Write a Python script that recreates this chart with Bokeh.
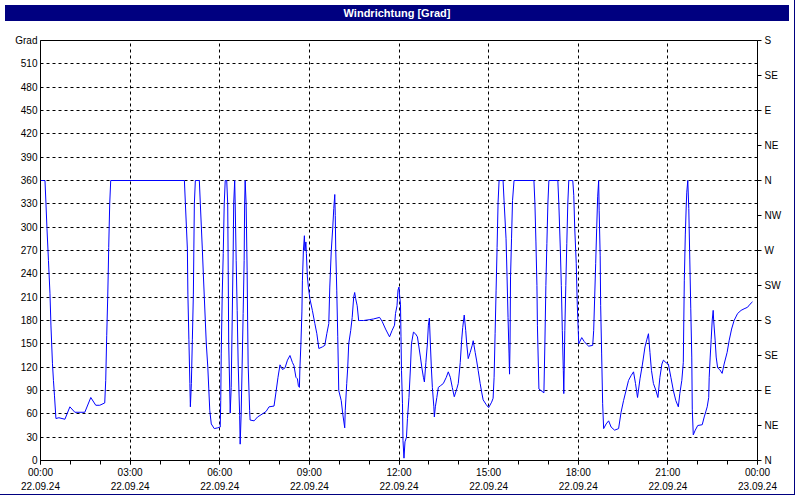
from bokeh.plotting import figure
from bokeh.models import Range1d, FixedTicker, LinearAxis, Div, AllLabels
from bokeh.layouts import column
from bokeh.embed import file_html
from bokeh.resources import INLINE

# time of day in minutes since 22.09.24 00:00, wind direction in degrees
minutes = [0, 9, 11, 13, 16, 19, 21, 24, 26, 28, 31, 37, 49, 59, 69, 89, 101, 111, 119, 129,
           131, 133, 135, 136, 137, 139, 141,
           289, 291, 295, 296, 298, 300, 301, 303, 305, 307, 308, 309, 311, 319, 321, 325, 327,
           331, 333, 336, 338, 340, 343, 349, 356, 361, 362, 363, 365, 367, 369, 371, 374, 376,
           377, 378, 380, 381, 383, 385, 387, 388, 390, 391, 393, 395, 397, 400, 401, 403, 405,
           407, 409, 410, 411, 413, 415, 416, 417, 420, 421, 429, 436,
           446, 453, 459, 469, 473, 477, 481, 486, 491, 496, 501, 506, 509, 513, 516, 518, 520,
           521, 523, 525, 526, 528, 530, 531, 533, 534, 536, 538, 541, 546, 551, 555, 559, 566,
           571, 575, 579, 581, 584, 587, 589, 591, 592, 593, 595, 597, 599, 604, 607, 611, 612,
           615, 617, 619, 623, 626, 629, 631, 633, 636, 639, 649, 660, 669, 681, 686, 693, 701,
           706, 711, 713, 716, 718, 720, 721, 723, 724, 725, 727, 728, 730, 732, 735, 737, 740,
           743, 745, 749, 753, 757, 763, 766, 769, 771, 774, 777, 779, 781, 783, 785, 787, 790,
           791, 793, 796, 799, 803, 809, 815, 819, 823, 827, 831, 836, 839, 843, 846, 848, 851,
           854, 856, 859, 863, 867, 869, 873, 876, 879, 883, 886, 889, 895, 900, 906, 909, 911,
           913, 915, 917, 919, 921,
           929, 931, 935, 937, 939, 941, 942, 943, 944, 946, 948, 951, 991, 993, 995, 997, 998,
           1000, 1001, 1007, 1011, 1013, 1015, 1017, 1019, 1021, 1039, 1041, 1044, 1046, 1048,
           1050, 1051, 1053, 1055, 1057, 1059, 1061, 1069, 1071, 1073, 1076, 1078, 1080, 1081,
           1087, 1092, 1096, 1101, 1109, 1111, 1113, 1115, 1117, 1119, 1121, 1122, 1124, 1125,
           1127, 1129, 1131, 1136, 1141, 1146, 1153, 1161, 1166, 1171, 1176, 1181, 1186, 1191,
           1195, 1199, 1204, 1209, 1214, 1218, 1221, 1224, 1227, 1231, 1236, 1240, 1244, 1248,
           1251, 1256, 1261, 1266, 1271, 1276, 1281, 1284, 1288, 1291, 1292, 1293, 1295, 1297,
           1298, 1300, 1302, 1304, 1306, 1308, 1309, 1311, 1315, 1320, 1329, 1333, 1339, 1342,
           1343, 1345, 1347, 1349, 1351, 1352, 1355, 1357, 1360, 1364, 1369, 1373, 1379, 1383,
           1388, 1393, 1400, 1407, 1413, 1420, 1425, 1430]
grad = [360, 360, 330, 298, 257, 215, 173, 125, 103, 84, 54, 55, 53, 69, 62, 62, 81, 71, 71, 74,
        103, 161, 210, 240, 274, 330, 360,
        360, 330, 272, 214, 156, 99, 69, 99, 156, 214, 272, 330, 360, 360, 330, 272, 240,
        180, 150, 120, 92, 64, 47, 41, 42, 43, 77, 137, 214, 266, 330, 360, 360, 330,
        244, 150, 92, 61, 94, 180, 270, 330, 360, 330, 257, 193, 124, 58, 21, 60, 124,
        189, 257, 330, 360, 330, 244, 180, 124, 64, 52, 51, 56,
        60, 63, 69, 70, 88, 107, 123, 117, 119, 129, 135, 126, 122, 107, 105, 96, 94,
        119, 150, 191, 231, 270, 289, 270, 281, 266, 236, 223, 208, 193, 176, 163, 144, 146,
        148, 163, 176, 223, 270, 300, 324, 342, 315, 270, 219, 159, 90, 77, 60, 42, 64,
        99, 119, 150, 167, 184, 210, 216, 208, 199, 180, 180, 181, 182, 184, 179, 169, 159,
        167, 174, 189, 199, 219, 223, 214, 201, 159, 116, 73, 26, 3, 24, 30, 54, 81,
        119, 150, 165, 163, 159, 133, 119, 107, 101, 126, 150, 174, 183, 150, 119, 94, 69,
        56, 69, 81, 94, 96, 99, 107, 114, 107, 94, 82, 92, 99, 126, 156, 171, 187,
        167, 150, 131, 139, 148, 154, 139, 128, 116, 99, 88, 78, 72, 68, 75, 80, 107,
        163, 219, 274, 332, 360,
        360, 334, 285, 236, 184, 137, 111, 150, 236, 285, 334, 360, 360, 330, 281, 225, 174,
        119, 92, 89, 87, 150, 225, 279, 330, 360, 360, 330, 272, 225, 167,
        116, 86, 167, 225, 279, 330, 360, 360, 341, 298, 253, 201, 167, 150,
        158, 153, 150, 147, 148, 167, 210, 253, 298, 339, 360, 321, 264, 199,
        137, 73, 41, 47, 51, 43, 39, 41, 62, 77, 90, 103, 109, 114,
        99, 81, 105, 124, 146, 156, 163, 139, 116, 99, 90, 81, 107, 124,
        129, 126, 124, 107, 90, 77, 69, 86, 103, 126, 180, 231, 290, 330,
        345, 360, 324, 259, 195, 133, 66, 33, 39, 45, 46, 56, 69, 81,
        107, 133, 156, 180, 193, 180, 154, 133, 119, 117, 112, 124, 139, 154,
        169, 180, 189, 193, 195, 197, 201, 204]

x_ticks = [0, 180, 360, 540, 720, 900, 1080, 1260, 1440]
x_minor_ticks = list(range(0, 1441, 60))
time_labels = ["00:00", "03:00", "06:00", "09:00", "12:00", "15:00", "18:00", "21:00", "00:00"]
date_labels = ["22.09.24"] * 8 + ["23.09.24"]
y_ticks = list(range(0, 541, 30))
y_labels = [str(v) for v in y_ticks[:-1]] + ["Grad"]
compass_ticks = list(range(0, 541, 45))
compass_labels = ["N", "NE", "E", "SE", "S", "SW", "W", "NW", "N", "NE", "E", "SE", "S"]

FONT = "Liberation Sans"
FSIZE = "10px"

p = figure(width=784, height=468,
           x_range=Range1d(0, 1440), y_range=Range1d(0, 540),
           output_backend="svg", toolbar_location=None, title=None,
           min_border_left=40, min_border_right=24, min_border_top=14, min_border_bottom=34,
           background_fill_color="white", border_fill_color="white")
p.outline_line_color = "black"
p.outline_line_width = 1

p.line(minutes, grad, line_color="#0000ff", line_width=1)

# grids
p.xgrid.ticker = FixedTicker(ticks=x_ticks[1:-1])
p.ygrid.ticker = FixedTicker(ticks=y_ticks[1:-1])
for g in (p.xgrid[0], p.ygrid[0]):
    g.grid_line_color = "black"
    g.grid_line_dash = "3 3"
    g.grid_line_width = 1

def style_labels(ax):
    ax.major_label_text_font = FONT
    ax.major_label_text_font_size = FSIZE
    ax.major_label_text_color = "#000000"
    ax.major_label_policy = AllLabels()

# bottom axis: times
xa = p.xaxis[0]
xa.ticker = FixedTicker(ticks=x_ticks, minor_ticks=x_minor_ticks)
xa.major_label_overrides = {t: s for t, s in zip(x_ticks, time_labels)}
xa.axis_line_color = "black"
xa.major_tick_in = 0
xa.major_tick_out = 4
xa.minor_tick_in = 0
xa.minor_tick_out = 4
xa.major_tick_line_color = "black"
xa.minor_tick_line_color = "black"
xa.major_label_standoff = 2
style_labels(xa)

# second bottom axis: dates
xd = LinearAxis(ticker=FixedTicker(ticks=x_ticks))
xd.major_label_overrides = {t: s for t, s in zip(x_ticks, date_labels)}
xd.axis_line_color = None
xd.major_tick_line_color = None
xd.minor_tick_line_color = None
xd.major_tick_out = 0
xd.major_tick_in = 0
xd.major_label_standoff = 1
style_labels(xd)
p.add_layout(xd, "below")

# left axis: degrees
ya = p.yaxis[0]
ya.ticker = FixedTicker(ticks=y_ticks)
ya.major_label_overrides = {t: s for t, s in zip(y_ticks, y_labels)}
ya.axis_line_color = "black"
ya.major_tick_line_color = None
ya.minor_tick_line_color = None
ya.major_tick_out = 0
ya.major_tick_in = 0
ya.major_label_standoff = 3
style_labels(ya)

# right axis: compass directions
yr = LinearAxis(ticker=FixedTicker(ticks=compass_ticks))
yr.major_label_overrides = {t: s for t, s in zip(compass_ticks, compass_labels)}
yr.axis_line_color = "black"
yr.major_tick_line_color = "black"
yr.minor_tick_line_color = None
yr.major_tick_in = 0
yr.major_tick_out = 4
yr.major_label_standoff = 3
style_labels(yr)
p.add_layout(yr, "right")

title = Div(text="Windrichtung [Grad]", width=784, height=16,
            styles={"background-color": "#000080", "color": "white",
                    "font-family": FONT, "font-size": "11px", "font-weight": "bold",
                    "text-align": "center", "line-height": "16px"})

layout = column(title, p, spacing=0, styles={"box-shadow": "0 0 0 1px #000080"})

open("out.html", "w").write(file_html(layout, INLINE))
